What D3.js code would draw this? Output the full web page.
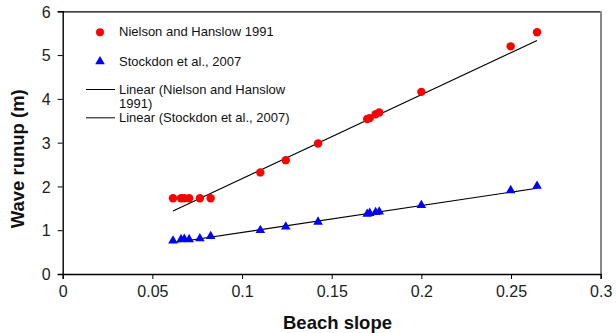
<!DOCTYPE html>
<html>
<head>
<meta charset="utf-8">
<script src="https://cdn.jsdelivr.net/npm/d3@7"></script>
<style>
  body { margin: 0; background: #fff; }
  svg { font-family: "Liberation Sans", Arial, sans-serif; }
</style>
</head>
<body>
<svg id="chart" width="616" height="333"></svg>
<script>
// beach slope of each site (shared by both series)
const slopes = [0.0615, 0.066, 0.0678, 0.0705, 0.0765, 0.0825, 0.1102, 0.1244, 0.1424,
  0.1698, 0.1712, 0.1745, 0.1765, 0.2, 0.2498, 0.2645];
const nielson = [1.73, 1.73, 1.73, 1.73, 1.73, 1.73, 2.32, 2.6, 2.98,
  3.54, 3.56, 3.65, 3.69, 4.16, 5.2, 5.52];
const stockdon = [0.76, 0.79, 0.8, 0.79, 0.81, 0.86, 1.0, 1.08, 1.19,
  1.37, 1.39, 1.41, 1.42, 1.57, 1.91, 2.01];
// excel trendlines: [slope, intercept]
const nielsonFit = [19.2, 0.256];
const stockdonFit = [6.14, 0.335];

const xTicks = [0, 0.05, 0.1, 0.15, 0.2, 0.25, 0.3];
const yTicks = [0, 1, 2, 3, 4, 5, 6];

const plot = { left: 62.7, right: 600.7, top: 11.3, bottom: 274 };

const svg = d3.select('#chart');
const x = d3.scaleLinear().domain([0, 0.3]).range([plot.left, plot.right]);
const y = d3.scaleLinear().domain([0, 6]).range([plot.bottom, plot.top]);

// plot area frame (top black, right grey)
svg.append('line')
  .attr('x1', plot.left).attr('x2', plot.right)
  .attr('y1', plot.top + 0.5).attr('y2', plot.top + 0.5)
  .attr('stroke', '#000').attr('stroke-width', 1.2);
svg.append('line')
  .attr('x1', plot.right + 0.3).attr('x2', plot.right + 0.3)
  .attr('y1', plot.top).attr('y2', plot.bottom)
  .attr('stroke', '#888').attr('stroke-width', 2);

const xAxis = svg.append('g')
  .attr('transform', `translate(0,${plot.bottom})`)
  .call(d3.axisBottom(x).tickValues(xTicks).tickFormat(d3.format('')).tickSizeOuter(0).tickSize(5).tickPadding(7));
const yAxis = svg.append('g')
  .attr('transform', `translate(${plot.left},0)`)
  .call(d3.axisLeft(y).tickValues(yTicks).tickFormat(d3.format('')).tickSizeOuter(0).tickSize(5).tickPadding(7));
for (const ax of [xAxis, yAxis]) {
  ax.selectAll('text').attr('font-size', 16).attr('fill', '#222')
    .attr('font-family', '"Liberation Sans", Arial, sans-serif');
  ax.select('.domain').attr('stroke', '#000').attr('stroke-width', 1.4);
  ax.selectAll('.tick line').attr('stroke', '#000').attr('stroke-width', 1);
}
xAxis.selectAll('text').attr('dy', '0.71em').attr('y', 12);
yAxis.selectAll('text').attr('dy', '0.36em');

// trendlines over the data range
const xExt = d3.extent(slopes);
const fitLine = d3.line().x(d => x(d[0])).y(d => y(d[1]));
for (const fit of [nielsonFit, stockdonFit]) {
  svg.append('path')
    .datum(xExt.map(s => [s, fit[0] * s + fit[1]]))
    .attr('d', fitLine)
    .attr('fill', 'none')
    .attr('stroke', '#000')
    .attr('stroke-width', 1.1);
}

const tri = d3.symbol().type(d3.symbolTriangle).size(40);

svg.append('g').selectAll('circle')
  .data(slopes.map((s, i) => [s, nielson[i]]))
  .join('circle')
  .attr('cx', d => x(d[0])).attr('cy', d => y(d[1]))
  .attr('r', 4.2)
  .attr('fill', '#ff0000');

svg.append('g').selectAll('path')
  .data(slopes.map((s, i) => [s, stockdon[i]]))
  .join('path')
  .attr('d', tri)
  .attr('transform', d => `translate(${x(d[0])},${y(d[1])})`)
  .attr('fill', '#0000ff');

// legend
const legend = svg.append('g').attr('font-size', 13).attr('fill', '#111');
legend.append('circle').attr('cx', 100).attr('cy', 32.3).attr('r', 4).attr('fill', '#ff0000');
legend.append('text').attr('x', 119).attr('y', 36.2).text('Nielson and Hanslow 1991');
legend.append('path').attr('d', tri).attr('transform', 'translate(100,61.5)').attr('fill', '#0000ff');
legend.append('text').attr('x', 119).attr('y', 65.5).text('Stockdon et al., 2007');
legend.append('line').attr('x1', 86).attr('x2', 115).attr('y1', 89.5).attr('y2', 89.5)
  .attr('stroke', '#000');
legend.append('text').attr('x', 119).attr('y', 94.4).text('Linear (Nielson and Hanslow');
legend.append('text').attr('x', 119).attr('y', 108).text('1991)');
legend.append('line').attr('x1', 86).attr('x2', 115).attr('y1', 117.8).attr('y2', 117.8)
  .attr('stroke', '#000');
legend.append('text').attr('x', 119).attr('y', 122.4).text('Linear (Stockdon et al., 2007)');

// axis titles
svg.append('text')
  .attr('x', 337.5).attr('y', 328.5)
  .attr('text-anchor', 'middle')
  .attr('font-size', 18.5).attr('font-weight', 'bold').attr('fill', '#111')
  .text('Beach slope');
svg.append('text')
  .attr('transform', 'translate(24,158.8) rotate(-90)')
  .attr('text-anchor', 'middle')
  .attr('font-size', 18.5).attr('font-weight', 'bold').attr('fill', '#111')
  .text('Wave runup (m)');
</script>
</body>
</html>
